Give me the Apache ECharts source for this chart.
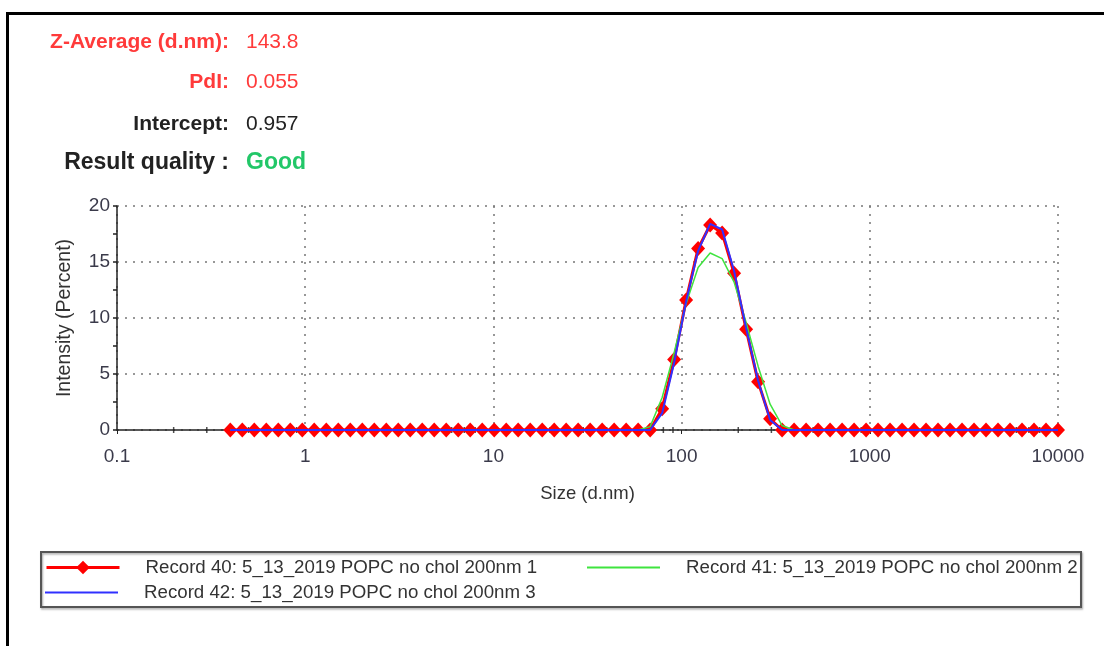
<!DOCTYPE html>
<html>
<head>
<meta charset="utf-8">
<script src="https://cdn.jsdelivr.net/npm/echarts@6/dist/echarts.min.js"></script>
<style>
html,body{margin:0;padding:0;background:#fff;}
#c{width:1104px;height:646px;}
</style>
</head>
<body>
<div id="c"></div>
<script>
// ---- data ----
const sizes = [0.4, 0.4632, 0.5365, 0.6213, 0.7195, 0.8332, 0.965, 1.117, 1.294, 1.499,
  1.736, 2.01, 2.328, 2.696, 3.122, 3.615, 4.187, 4.849, 5.615, 6.503,
  7.531, 8.721, 10.1, 11.7, 13.54, 15.69, 18.17, 21.04, 24.36, 28.21,
  32.67, 37.84, 43.82, 50.75, 58.77, 68.06, 78.82, 91.28, 105.7, 122.4,
  141.8, 164.2, 190.1, 220.2, 255.0, 295.3, 342.0, 396.1, 458.7, 531.2,
  615.1, 712.4, 825.0, 955.4, 1106, 1281, 1484, 1718, 1990, 2305,
  2669, 3091, 3580, 4145, 4801, 5560, 6439, 7456, 8635, 10000];

const record40 = [0,0,0,0,0,0,0,0,0,0, 0,0,0,0,0,0,0,0,0,0, 0,0,0,0,0,0,0,0,0,0,
  0,0,0,0,0,0, 1.9,6.3,11.6,16.2,18.3,17.6,14.0,9.0,4.3,1.0,
  0,0,0,0,0,0,0,0,0,0, 0,0,0,0,0,0,0,0,0,0, 0,0,0,0];
const record41 = [0,0,0,0,0,0,0,0,0,0, 0,0,0,0,0,0,0,0,0,0, 0,0,0,0,0,0,0,0,0,0,
  0,0,0,0,0,0.3, 2.9,6.9,11.3,14.5,15.8,15.3,13.2,9.6,5.7,2.3, 0.4,
  0,0,0,0,0,0,0,0,0, 0,0,0,0,0,0,0,0,0,0, 0,0,0,0];
const record42 = [0,0,0,0,0,0,0,0,0,0, 0,0,0,0,0,0,0,0,0,0, 0,0,0,0,0,0,0,0,0,0,
  0,0,0,0,0,0, 1.5,6.0,11.5,16.0,18.4,17.9,14.2,9.1,4.4,0.9,
  0,0,0,0,0,0,0,0,0,0, 0,0,0,0,0,0,0,0,0,0, 0,0,0,0];

const seriesNames = ['Record 40: 5_13_2019 POPC no chol 200nm 1',
                     'Record 41: 5_13_2019 POPC no chol 200nm 2',
                     'Record 42: 5_13_2019 POPC no chol 200nm 3'];

const xTickLabels = ['0.1', '1', '10', '100', '1000', '10000'];
const xMinorTicks = [0.2,0.3,0.4,0.5,0.6,0.7,0.8,0.9, 2,3,4,5,6,7,8,9,
  20,30,40,50,60,70,80,90, 200,300,400,500,600,700,800,900,
  2000,3000,4000,5000,6000,7000,8000,9000];

const summaryLabels = ['Z-Average (d.nm):', 'PdI:', 'Intercept:', 'Result quality :'];
const summaryValues = ['143.8', '0.055', '0.957', 'Good'];

// ---- chart ----
const FONT = '"Liberation Sans", Arial, sans-serif';
const pair = arr => sizes.map((s, i) => [s, arr[i]]);

const summaryY = [42, 82, 124, 163];
const labelColors = ['#ff3a3a', '#ff3a3a', '#222', '#222'];
const valueColors = ['#ff3a3a', '#ff3a3a', '#222', '#22c768'];
const summarySizes = [21, 21, 21, 23];

const graphics = [
  {type: 'line', shape: {x1: 7.5, y1: 13.5, x2: 1104, y2: 13.5}, style: {stroke: '#000', lineWidth: 3}},
  {type: 'line', shape: {x1: 7.5, y1: 12, x2: 7.5, y2: 646}, style: {stroke: '#000', lineWidth: 3}},
  {type: 'rect', shape: {x: 41, y: 552, width: 1040, height: 55},
   style: {fill: 'none', stroke: '#555', lineWidth: 2, shadowColor: 'rgba(0,0,0,0.35)', shadowBlur: 2, shadowOffsetX: 1, shadowOffsetY: 1.5}}
];
summaryLabels.forEach((t, i) => {
  graphics.push({type: 'text', x: 229, y: summaryY[i],
    style: {text: t, fill: labelColors[i], font: 'bold ' + summarySizes[i] + 'px ' + FONT, textAlign: 'right', textVerticalAlign: 'middle'}});
  graphics.push({type: 'text', x: 246, y: summaryY[i],
    style: {text: summaryValues[i], fill: valueColors[i], font: (i === 3 ? 'bold ' : '') + summarySizes[i] + 'px ' + FONT, textAlign: 'left', textVerticalAlign: 'middle'}});
});

const legendText = {fontFamily: FONT, fontSize: 18.7, color: '#333', padding: [0, 0, 0, 21]};
const chart = echarts.init(document.getElementById('c'), null, {renderer: 'canvas'});
chart.setOption({
  animation: false,
  backgroundColor: '#fff',
  grid: {left: 117, right: 46, top: 206, bottom: 216, containLabel: false},
  legend: [
    {data: [seriesNames[0]], left: 45, top: 558, itemWidth: 73, itemHeight: 17, padding: 0,
     selectedMode: false, textStyle: legendText, lineStyle: {width: 3}},
    {data: [{name: seriesNames[1], icon: 'rect'}], left: 587, top: 558, itemWidth: 73, itemHeight: 2, padding: 0,
     selectedMode: false, textStyle: legendText},
    {data: [{name: seriesNames[2], icon: 'rect'}], left: 45, top: 583, itemWidth: 73, itemHeight: 2, padding: 0,
     selectedMode: false, textStyle: legendText}
  ],
  xAxis: {
    type: 'log', logBase: 10, min: 0.1, max: 10000,
    name: 'Size (d.nm)', nameLocation: 'middle', nameGap: 54,
    nameTextStyle: {fontFamily: FONT, fontSize: 18.5, color: '#333'},
    axisLine: {show: true, onZero: false, lineStyle: {color: '#222', width: 1.5}},
    axisTick: {show: true, length: 4, lineStyle: {color: '#222'}},
    axisLabel: {fontFamily: FONT, fontSize: 19, color: '#3a3a4a', margin: 17,
      formatter: v => xTickLabels[Math.round(Math.log10(v)) + 1]},
    splitLine: {show: true, lineStyle: {color: '#777', type: [2, 6], width: 1.5}}
  },
  yAxis: {
    type: 'value', min: 0, max: 20, interval: 5,
    name: 'Intensity (Percent)', nameLocation: 'middle', nameGap: 42,
    nameTextStyle: {fontFamily: FONT, fontSize: 19.5, color: '#333'},
    axisLine: {show: true, lineStyle: {color: '#222', width: 1.5}},
    axisTick: {show: true, length: 4, lineStyle: {color: '#222', width: 1.5}},
    minorTick: {show: true, splitNumber: 2, length: 4, lineStyle: {color: '#222', width: 1.5}},
    axisLabel: {fontFamily: FONT, fontSize: 19, color: '#3a3a4a', margin: 7},
    splitLine: {show: true, lineStyle: {color: '#777', type: [2, 6], width: 1.5}}
  },
  series: [
    {
      type: 'scatter', silent: true, z: 1, symbol: 'rect', symbolSize: [1.5, 6],
      itemStyle: {color: '#222'}, data: xMinorTicks.map(v => [v, 0]), legendHoverLink: false
    },
    {
      name: seriesNames[0], type: 'line', z: 2, data: pair(record40),
      symbol: 'diamond', symbolSize: [14, 15], showSymbol: true,
      itemStyle: {color: '#ff0000'}, lineStyle: {color: '#ff0000', width: 3}
    },
    {
      name: seriesNames[1], type: 'line', z: 3, data: pair(record41),
      symbol: 'none', itemStyle: {color: '#3fe43f'}, lineStyle: {color: '#3fe43f', width: 1.5}
    },
    {
      name: seriesNames[2], type: 'line', z: 4, data: pair(record42),
      symbol: 'none', itemStyle: {color: '#3030ff'}, lineStyle: {color: '#3030ff', width: 2}
    }
  ],
  graphic: graphics
});
</script>
</body>
</html>
